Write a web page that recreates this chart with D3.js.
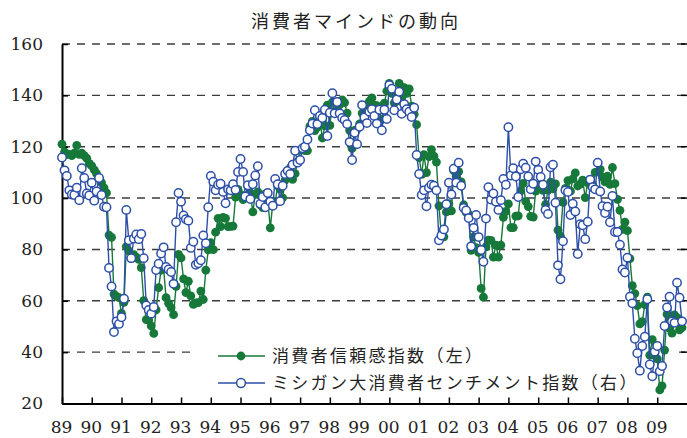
<!DOCTYPE html>
<html>
<head>
<meta charset="utf-8">
<script src="https://cdn.jsdelivr.net/npm/d3@7"></script>
<style>
	body { margin: 0; background: #fff; }
	svg { display: block; }
</style>
</head>
<body>
<svg id="chart" width="687" height="438"></svg>
<script>
var title = "消費者マインドの動向";
var seriesNames = ["消費者信頼感指数（左）", "ミシガン大消費者センチメント指数（右）"];
var firstYear = 1989;
var lastYear = 2009;
var leftTicks = [20, 40, 60, 80, 100, 120, 140, 160];
var rightDomain = [50, 120];

// Conference Board consumer confidence, monthly from Jan 1989 (left axis)
var confidence = [
	121.0, 118.0, 117.0, 117.0, 116.5, 117.5, 120.5, 117.0, 117.5, 116.5, 115.5, 113.5,
	112.5, 111.0, 109.5, 107.7, 106.0, 104.0, 102.0, 85.6, 84.7, 62.6, 61.7, 61.2,
	55.1, 59.4, 81.1, 79.4, 76.4, 78.0, 77.0, 76.1, 72.9, 60.1, 52.7, 52.5,
	50.2, 47.3, 56.5, 65.1, 71.9, 72.6, 61.2, 59.0, 57.3, 54.6, 65.6, 78.1,
	76.7, 68.5, 63.2, 67.6, 61.9, 58.6, 59.2, 59.3, 63.8, 60.5, 71.9, 79.8,
	82.6, 79.9, 86.7, 92.1, 88.9, 92.5, 92.1, 88.9, 89.0, 89.1, 100.4, 103.4,
	101.4, 99.4, 100.2, 104.6, 102.0, 94.6, 101.4, 102.4, 97.3, 96.3, 101.6, 99.2,
	88.4, 98.0, 98.4, 104.8, 103.5, 100.1, 107.0, 109.4, 111.8, 107.3, 109.5, 114.2,
	118.7, 118.9, 118.5, 118.5, 127.9, 129.9, 126.3, 127.6, 130.2, 123.4, 128.1, 136.2,
	128.3, 137.4, 133.8, 137.2, 136.3, 138.2, 137.2, 133.1, 126.4, 119.3, 126.4, 126.7,
	128.9, 133.1, 134.0, 135.5, 137.7, 139.0, 136.2, 136.0, 134.2, 130.5, 137.0, 141.7,
	144.7, 140.8, 137.1, 137.7, 144.7, 139.2, 143.0, 140.8, 142.5, 135.8, 132.6, 128.6,
	115.7, 109.2, 116.9, 109.9, 116.1, 118.9, 116.3, 114.0, 97.0, 85.3, 84.9, 94.6,
	97.8, 95.0, 110.7, 108.5, 110.3, 106.3, 97.4, 94.5, 93.7, 79.6, 84.9, 80.7,
	78.8, 64.8, 61.4, 81.0, 83.6, 83.5, 77.0, 81.7, 77.0, 81.7, 92.5, 94.8,
	97.7, 88.5, 88.5, 93.0, 93.1, 102.8, 105.7, 98.7, 96.7, 92.9, 92.6, 102.7,
	105.1, 104.4, 103.0, 97.5, 103.1, 106.2, 103.6, 105.5, 87.5, 85.2, 98.3, 103.8,
	106.8, 102.7, 107.5, 109.8, 104.7, 105.4, 107.0, 100.2, 105.9, 105.1, 105.3, 110.0,
	110.2, 111.2, 108.2, 106.3, 108.5, 105.3, 111.9, 105.6, 99.5, 95.2, 87.8, 90.6,
	87.3, 76.4, 65.9, 62.8, 58.1, 51.0, 51.9, 58.5, 61.4, 38.8, 44.9, 38.6,
	37.4, 25.3, 26.9, 40.8, 54.8, 49.3, 47.4, 54.5, 53.4, 48.7, 49.5
];

// Michigan consumer sentiment, monthly from Jan 1989 (right axis)
var michigan = [
	97.9, 95.4, 94.3, 91.5, 90.7, 90.6, 92.0, 89.6, 95.8, 93.9, 90.9, 90.5,
	93.0, 89.5, 91.3, 93.9, 90.6, 88.3, 88.2, 76.4, 72.8, 63.9, 66.0, 65.5,
	66.8, 70.4, 87.7, 81.8, 78.3, 82.1, 82.9, 82.0, 83.0, 78.3, 69.1, 68.2,
	67.5, 68.8, 76.0, 77.2, 79.2, 80.4, 76.6, 76.1, 75.6, 73.3, 85.3, 91.0,
	89.3, 86.6, 85.9, 85.6, 80.3, 81.5, 77.0, 77.3, 77.9, 82.7, 81.2, 88.2,
	94.3, 93.2, 91.5, 92.6, 92.8, 91.2, 89.0, 91.7, 91.5, 92.7, 91.6, 95.1,
	97.6, 95.1, 90.3, 92.5, 89.8, 92.7, 94.4, 96.2, 88.9, 90.2, 88.2, 91.0,
	89.3, 88.5, 93.7, 92.7, 89.4, 92.4, 94.7, 95.3, 94.7, 96.5, 99.2, 96.9,
	97.4, 99.7, 100.0, 101.4, 103.2, 104.5, 107.1, 104.4, 106.0, 105.6, 107.2, 102.1,
	106.6, 110.4, 106.5, 108.7, 106.5, 105.6, 105.2, 104.4, 100.9, 97.4, 102.7, 100.5,
	103.9, 108.1, 105.7, 104.6, 106.8, 107.3, 106.0, 104.5, 107.2, 103.2, 107.2, 105.4,
	112.0, 111.3, 107.1, 109.2, 110.7, 106.4, 108.3, 107.3, 106.8, 105.8, 107.6, 98.4,
	94.7, 90.6, 91.5, 88.4, 92.0, 92.6, 92.4, 91.5, 81.8, 82.7, 83.9, 88.8,
	93.0, 90.7, 95.7, 93.0, 96.9, 92.4, 88.1, 87.6, 86.1, 80.6, 84.2, 86.7,
	82.4, 79.9, 77.6, 86.0, 92.1, 89.7, 90.9, 89.3, 87.7, 89.6, 93.7, 92.6,
	103.8, 94.4, 95.8, 94.2, 90.2, 95.6, 96.7, 95.9, 94.2, 91.7, 92.8, 97.1,
	95.5, 94.1, 92.6, 87.7, 86.9, 96.0, 96.5, 89.1, 76.9, 74.2, 81.6, 91.5,
	91.2, 86.7, 88.9, 87.4, 79.1, 84.9, 84.7, 82.0, 85.4, 93.6, 92.1, 91.7,
	96.9, 91.3, 88.4, 87.1, 88.3, 85.3, 90.4, 83.4, 83.4, 80.9, 76.1, 75.5,
	78.4, 70.8, 69.5, 62.6, 59.8, 56.4, 61.2, 63.0, 70.3, 57.6, 55.3, 60.1,
	61.2, 56.3, 57.3, 65.1, 68.7, 70.8, 66.0, 65.7, 73.5, 70.6, 66.0
];

var green = "#16793a";
var blue = "#2d4fa8";

var plot = { left: 62, right: 687, top: 44, bottom: 403.5 };
var svg = d3.select("#chart");

var x = d3.scaleTime()
	.domain([new Date(firstYear, 0, 1), new Date(lastYear + 1, 0, 1)])
	.range([plot.left, plot.right]);
var y = d3.scaleLinear()
	.domain([leftTicks[0], leftTicks[leftTicks.length - 1]])
	.range([plot.bottom, plot.top]);
var yRight = d3.scaleLinear()
	.domain(rightDomain)
	.range([plot.bottom, plot.top]);

function monthDate(i) {
	return new Date(firstYear, i, 1);
}

// title
svg.append("text")
	.attr("x", 356)
	.attr("y", 28)
	.attr("text-anchor", "middle")
	.style("font-family", "'Noto Sans CJK JP', sans-serif")
	.style("font-size", "18px")
	.style("letter-spacing", "3px")
	.style("fill", "#222")
	.text(title);

// dashed grid
svg.append("g")
	.selectAll("line")
	.data(leftTicks.slice(1))
	.enter()
	.append("line")
	.attr("x1", plot.left)
	.attr("x2", plot.right)
	.attr("y1", function(d) { return y(d); })
	.attr("y2", function(d) { return y(d); })
	.style("stroke", "#3c3c3c")
	.style("stroke-width", 1.4)
	.style("stroke-dasharray", "8,7");

// right-side ticks
svg.append("g")
	.selectAll("line")
	.data(leftTicks.slice(1))
	.enter()
	.append("line")
	.attr("x1", plot.right - 6)
	.attr("x2", plot.right)
	.attr("y1", function(d) { return y(d); })
	.attr("y2", function(d) { return y(d); })
	.style("stroke", "#000")
	.style("stroke-width", 1.5);

// legend background hides the grid under it
svg.append("rect")
	.attr("x", 195)
	.attr("y", 340)
	.attr("width", 484)
	.attr("height", 58)
	.style("fill", "#fff");

// axes
var yAxis = svg.append("g")
	.attr("transform", "translate(" + plot.left + ",0)")
	.call(d3.axisLeft(y).tickValues(leftTicks).tickSize(-6).tickSizeOuter(0).tickPadding(19));

var xAxis = svg.append("g")
	.attr("transform", "translate(0," + plot.bottom + ")")
	.call(d3.axisBottom(x)
		.ticks(d3.timeYear.every(1))
		.tickFormat(d3.timeFormat("%y"))
		.tickSize(-6)
		.tickSizeOuter(0)
		.tickPadding(17.5));

[yAxis, xAxis].forEach(function(g) {
	g.select(".domain").style("stroke", "#000").style("stroke-width", 2);
	g.selectAll(".tick line").style("stroke", "#000").style("stroke-width", 1.5);
	g.selectAll(".tick text")
		.style("font-family", "'DejaVu Serif', serif")
		.style("font-size", "17px")
		.style("fill", "#222");
});
xAxis.selectAll(".tick text").attr("dx", -1);
xAxis.selectAll(".tick")
	.filter(function(d) { return d.getFullYear() > lastYear; })
	.remove();

// series
var greenLine = d3.line()
	.x(function(d, i) { return x(monthDate(i)); })
	.y(function(d) { return y(d); });
var blueLine = d3.line()
	.x(function(d, i) { return x(monthDate(i)); })
	.y(function(d) { return yRight(d); });

svg.append("path")
	.attr("d", greenLine(confidence))
	.style("fill", "none")
	.style("stroke", green)
	.style("stroke-width", 1.4);

svg.append("g")
	.selectAll("circle")
	.data(confidence)
	.enter()
	.append("circle")
	.attr("cx", function(d, i) { return x(monthDate(i)); })
	.attr("cy", function(d) { return y(d); })
	.attr("r", 4.4)
	.style("fill", green);

svg.append("path")
	.attr("d", blueLine(michigan))
	.style("fill", "none")
	.style("stroke", blue)
	.style("stroke-width", 1.4);

svg.append("g")
	.selectAll("circle")
	.data(michigan)
	.enter()
	.append("circle")
	.attr("cx", function(d, i) { return x(monthDate(i)); })
	.attr("cy", function(d) { return yRight(d); })
	.attr("r", 4.2)
	.style("fill", "#fff")
	.style("stroke", blue)
	.style("stroke-width", 1.5);

// legend
var legend = svg.append("g")
	.selectAll("g")
	.data(seriesNames)
	.enter()
	.append("g")
	.attr("transform", function(d, i) { return "translate(218," + (356 + i * 27) + ")"; });

legend.append("line")
	.attr("x1", 0)
	.attr("x2", 47)
	.style("stroke", function(d, i) { return i === 0 ? green : blue; })
	.style("stroke-width", 1.4);

legend.append("circle")
	.attr("cx", 23)
	.attr("r", 4.4)
	.style("fill", function(d, i) { return i === 0 ? green : "#fff"; })
	.style("stroke", function(d, i) { return i === 0 ? "none" : blue; })
	.style("stroke-width", 1.5);

legend.append("text")
	.attr("x", 54)
	.attr("dy", "0.36em")
	.style("font-family", "'Noto Sans CJK JP', sans-serif")
	.style("font-size", "17px")
	.style("letter-spacing", "2.3px")
	.style("fill", "#222")
	.text(function(d) { return d; });
</script>
</body>
</html>
